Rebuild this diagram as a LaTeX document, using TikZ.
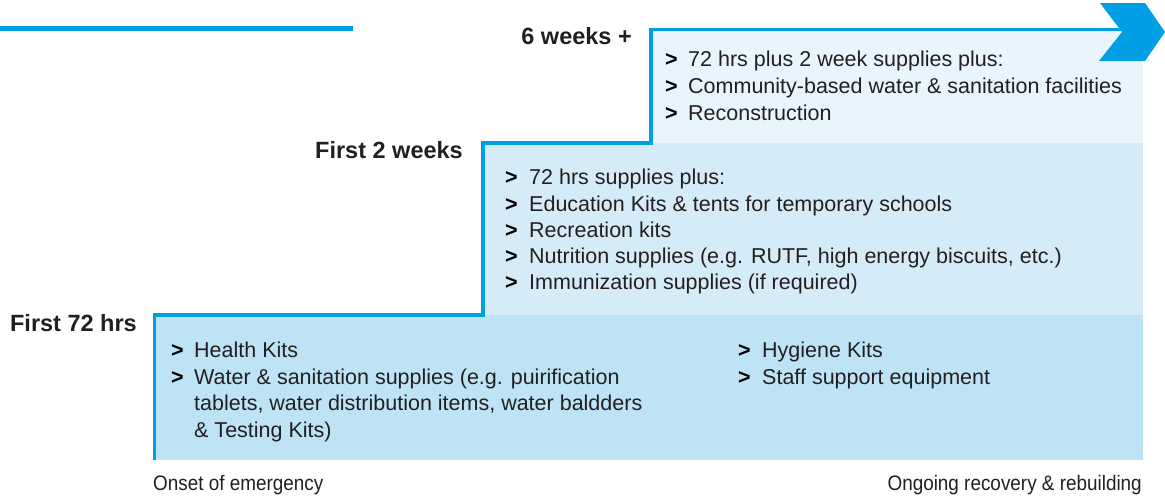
\documentclass[tikz,border=0pt]{standalone}
\usepackage{fontspec}
\setmainfont{Liberation Sans}
\newfontfamily\condfont[FakeStretch=0.9]{Liberation Sans}

\begin{document}
\begin{tikzpicture}[x=1pt, y=-1pt,
        phaselabel/.style={anchor=base east, inner sep=0pt, text=ciText,
            font=\fontsize{23.5}{28}\selectfont\bfseries},
        itemgt/.style={anchor=base west, inner sep=0pt, text=black,
            font=\fontsize{21.5}{25}\selectfont\bfseries},
        itemtext/.style={anchor=base west, inner sep=0pt, text=ciText,
            font=\fontsize{21.5}{25}\selectfont},
        timelabel/.style={inner sep=0pt, text=ciText,
            font=\condfont\fontsize{21}{25}\selectfont}]
        % CI-Farben
        \definecolor{ciLine}{HTML}{009FE3}
        \definecolor{ciPhaseA}{HTML}{BEE3F5}
        \definecolor{ciPhaseB}{HTML}{D5EBF8}
        \definecolor{ciPhaseC}{HTML}{E9F5FC}
        \definecolor{ciText}{HTML}{231F20}

        \useasboundingbox (0,0) rectangle (1165,496);

        % Flächen der Phasen
        \fill[ciPhaseA] (154,315) rectangle (1143,460);
        \fill[ciPhaseB] (483,143) rectangle (1143,315);
        \fill[ciPhaseC] (651,29.5) rectangle (1143,143);

        % Linie oben links
        \draw[ciLine, line width=5pt] (0,28.5) -- (353,28.5);

        % Stufenlinie mit Pfeil
        \coordinate (s0) at (154.5,460);
        \coordinate (s1) at (483,315);
        \coordinate (s2) at (651,143);
        \coordinate (s3) at (1124,29.5);
        \draw[ciLine, line width=3.5pt] (s0) |- (s1) |- (s2) |- (s3);
        \fill[ciLine] (1100,3) -- (1145,3) -- (1165,32) -- (1145,61)
            -- (1099,61) -- (1122,32) -- cycle;

        % Phasen
        \node[phaselabel] (lblC) at (632,44) {6 weeks +};
        \node[phaselabel] (lblB) at (463,158) {First 2 weeks};
        \node[phaselabel] (lblA) at (137,331) {First 72 hrs};

        % 6 weeks +
        \foreach \y/\t [count=\i] in {
            66/{72 hrs plus 2 week supplies plus:},
            93/{Community-based water \& sanitation facilities},
            120/{Reconstruction}}
        {
            \node[itemgt] (gC\i) at (665,\y) {>};
            \node[itemtext] (tC\i) at (688,\y) {\t};
        }

        % First 2 weeks
        \foreach \y/\t [count=\i] in {
            184/{72 hrs supplies plus:},
            211/{Education Kits \& tents for temporary schools},
            237/{Recreation kits},
            263/{Nutrition supplies (e.g. RUTF, high energy biscuits, etc.)},
            289/{Immunization supplies (if required)}}
        {
            \node[itemgt] (gB\i) at (505,\y) {>};
            \node[itemtext] (tB\i) at (529,\y) {\t};
        }

        % First 72 hrs
        \foreach \y [count=\i] in {357,384}
            \node[itemgt] (gA\i) at (171,\y) {>};
        \foreach \y/\t [count=\i] in {
            357/{Health Kits},
            384/{Water \& sanitation supplies (e.g. puirification},
            410/{tablets, water distribution items, water baldders},
            437/{\& Testing Kits)}}
            \node[itemtext] (tA\i) at (194,\y) {\t};
        \foreach \y/\t [count=\i] in {
            357/{Hygiene Kits},
            384/{Staff support equipment}}
        {
            \node[itemgt] (gD\i) at (738,\y) {>};
            \node[itemtext] (tD\i) at (762,\y) {\t};
        }

        % Zeitachse
        \node[timelabel, anchor=base west] (onset) at (153,490) {Onset of emergency};
        \node[timelabel, anchor=base east] (recovery) at (1142,490) {Ongoing recovery \& rebuilding};
\end{tikzpicture}
\end{document}
